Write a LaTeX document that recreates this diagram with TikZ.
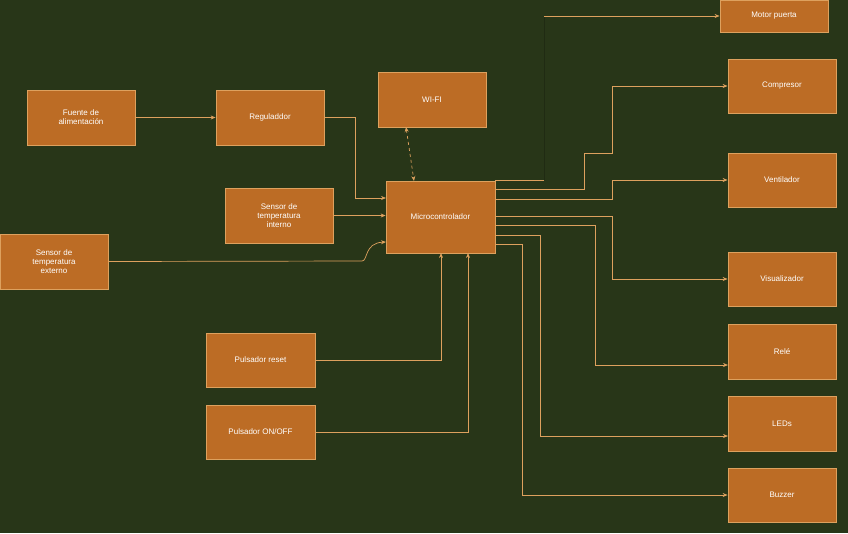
\documentclass[tikz,border=0pt]{standalone}
\usepackage{fontspec}
\setmainfont{Liberation Sans}
\usetikzlibrary{arrows.meta}
\definecolor{bg}{RGB}{40,54,24}
\definecolor{boxf}{RGB}{188,108,37}
\definecolor{ln}{RGB}{221,161,94}
\begin{document}
\begin{tikzpicture}[x=1pt,y=-1pt,
 box/.style={draw=ln,fill=boxf,line width=0.8pt,text=white,font=\fontsize{8}{9}\selectfont,align=center,inner sep=1pt},
 con/.style={draw=ln,line width=0.7pt,-{Stealth[length=5pt,width=4pt]}}]
\fill[bg] (0,0) rectangle (848,533);
\useasboundingbox (0,0) rectangle (848,533);
\newcommand\bx[6]{\node[box,minimum width=#4-#2,minimum height=#5-#3] (#1) at ({(#2+#4)/2},{(#3+#5)/2}) {#6};}
\bx{fuente}{27}{90}{135}{145}{Fuente de\\alimentación}
\bx{reg}{216}{90}{324}{145}{Reguladdor}
\bx{wifi}{378}{72}{486}{127}{WI-FI}
\bx{micro}{386}{181}{495}{253}{Microcontrolador}
\bx{sint}{225}{188}{333}{243}{Sensor de\\temperatura\\interno}
\bx{sext}{0}{234}{108}{289}{Sensor de\\temperatura\\externo}
\bx{reset}{206}{333}{315}{387}{Pulsador reset}
\bx{onoff}{206}{405}{315}{459}{Pulsador ON/OFF}
\bx{motor}{720}{0}{828}{32}{Motor puerta}
\bx{comp}{728}{59}{836}{113}{Compresor}
\bx{vent}{728}{153}{836}{207}{Ventilador}
\bx{vis}{728}{252}{836}{306}{Visualizador}
\bx{rele}{728}{324}{836}{379}{Relé}
\bx{leds}{728}{396}{836}{451}{LEDs}
\bx{buzz}{728}{468}{836}{522}{Buzzer}
\coordinate (m1) at (544,180);
\coordinate (m2) at (544,16);
\draw[con] (fuente) -- (reg);
\draw[con] (reg.east) -- (355,117.5) |- (386,198);
\draw[con] (sint.east) -- (micro.west |- sint.east);
\draw[con] (sext.east) -- (362,261) .. controls (368,261) and (364,243) .. (386,242);
\draw[draw=ln,line width=0.7pt,dashed,{Stealth[length=5pt,width=4pt]}-{Stealth[length=5pt,width=4pt]}] (406,127) -- (414,181);
\draw[con] (reset.east) -| (441,253);
\draw[con] (onoff.east) -| (468,253);
\draw[draw=ln,line width=0.7pt] (495,180) -- (m1);
\draw[draw=bg!80!black,line width=0.7pt] (m1) -- (m2);
\draw[con] (m2) -- (motor.west);
\draw[con] (495,189) -- (584,189) -- (584,153) -- (612,153) |- (comp.west);
\draw[con] (495,199) -- (612,199) |- (vent.west);
\draw[con] (495,216) -- (612,216) |- (vis.west);
\draw[con] (495,225) -- (595,225) |- (728,365);
\draw[con] (495,235) -- (540,235) |- (728,436);
\draw[con] (495,244) -- (522,244) |- (buzz.west);
\end{tikzpicture}
\end{document}
